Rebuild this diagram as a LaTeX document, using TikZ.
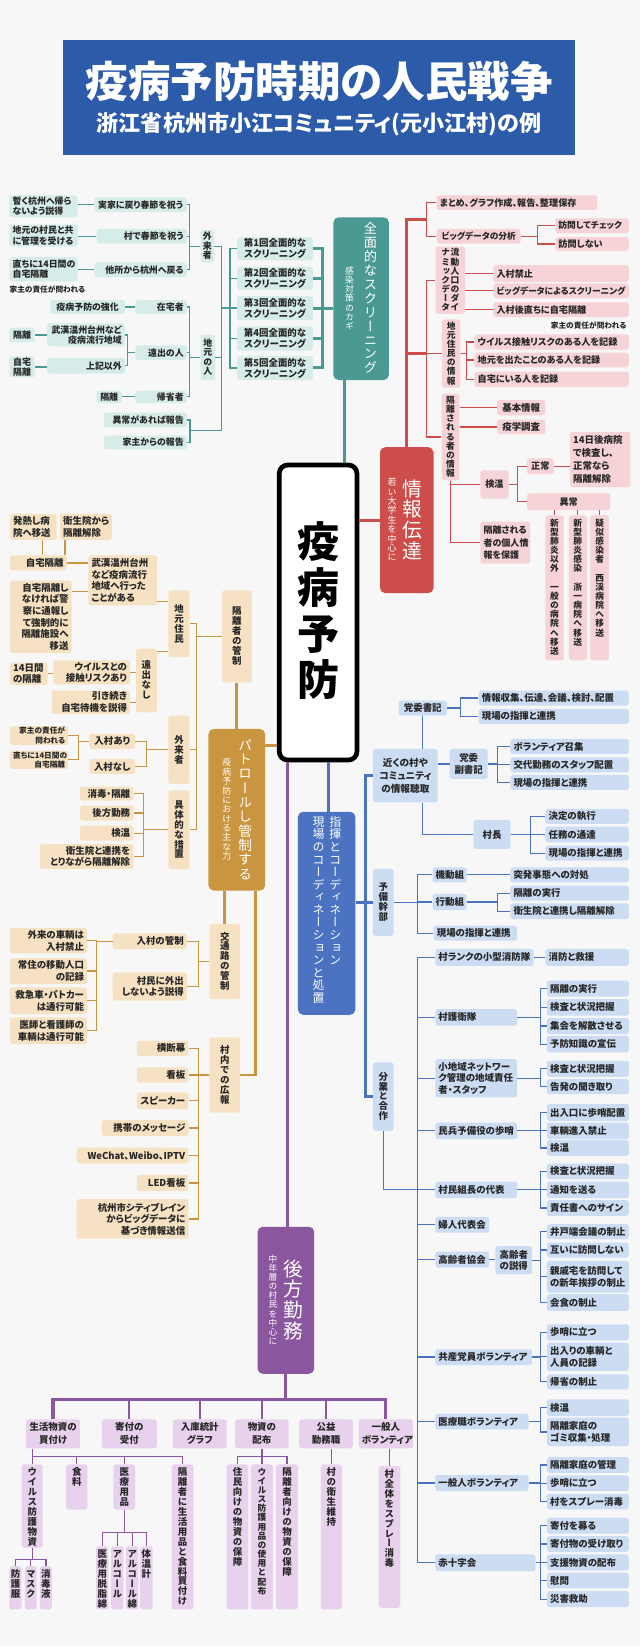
\documentclass[tikz,border=0pt]{standalone}
\usepackage{fontspec}
\setmainfont{Noto Sans CJK JP}[RawFeature=+palt]

\definecolor{bgc}{HTML}{F7F7F8}
\definecolor{ttlb}{HTML}{2C5BA9}
\definecolor{tealM}{HTML}{4A9A93}
\definecolor{tealL}{HTML}{D6ECE9}
\definecolor{redM}{HTML}{CC4D4A}
\definecolor{redL}{HTML}{F6D3D7}
\definecolor{orgM}{HTML}{C9953F}
\definecolor{orgL}{HTML}{F6E2C3}
\definecolor{bluM}{HTML}{4B73C1}
\definecolor{bluL}{HTML}{CCDCF3}
\definecolor{purM}{HTML}{8A569E}
\definecolor{purL}{HTML}{E8D1ED}
\definecolor{ink}{HTML}{262626}

% vertical (tategaki) text: one character per row
\newcommand\tatepitch{1.05}
\def\tateend{\tateend}
\newcommand\tatechar[1]{\hbox to 1em{\hss\vrule width 0pt height .88em depth \dimexpr\tatepitch em-.88em\relax#1\hss}}
\newcommand\tatei[1]{\ifx#1\tateend\else\tatechar{#1}\expandafter\tatei\fi}
\newcommand\tate[1]{\vtop{\addfontfeature{RawFeature=+vert}\offinterlineskip\tatei#1\tateend}}

% box from corner (x1,y1) to (x2,y2)
\newcommand\hnode[7]{%
  \pgfmathsetmacro\hnw{#5-#3-6}%
  \pgfmathsetmacro\hnh{#6-#4}%
  \node[#1, text width=\hnw pt, minimum height=\hnh pt] (#2) at ({(#3+#5)/2},{(#4+#6)/2}) {#7};}
\newcommand\vnode[7]{%
  \pgfmathsetmacro\hnw{#5-#3}%
  \pgfmathsetmacro\hnh{#6-#4}%
  \node[#1, minimum width=\hnw pt, minimum height=\hnh pt, inner xsep=0pt, inner ysep=2pt] (#2) at ({(#3+#5)/2},{(#4+#6)/2}) {\tate{#7}};}
\newcommand\vnodet[7]{%
  \pgfmathsetmacro\hnw{#5-#3}%
  \pgfmathsetmacro\hnh{#6-#4-6}%
  \node[#1, minimum width=\hnw pt, inner xsep=0pt, inner ysep=3pt] (#2) at ({(#3+#5)/2},{(#4+#6)/2}) {\vbox to \hnh pt{\tate{#7}\vss}};}

\tikzset{
  lbox/.style={rounded corners=2.5pt, inner xsep=3pt, inner ysep=1pt, text=ink},
  tbox/.style={lbox, fill=tealL, font=\bfseries\fontsize{8.5}{9.8}\selectfont},
  rbox/.style={lbox, fill=redL, font=\bfseries\fontsize{8.7}{10}\selectfont},
  obox/.style={lbox, fill=orgL, font=\bfseries\fontsize{9}{11}\selectfont},
  bbox/.style={lbox, fill=bluL, font=\bfseries\fontsize{9}{11}\selectfont},
  pbox/.style={lbox, fill=purL, font=\bfseries\fontsize{9}{12.5}\selectfont},
  al/.style={align=left}, ar/.style={align=right}, ac/.style={align=center},
  fsmall/.style={font=\bfseries\fontsize{7.3}{8.6}\selectfont},
  fnarrow/.style={font=\bfseries\fontsize{8.3}{9.8}\selectfont},
  fnine/.style={font=\bfseries\fontsize{9}{10.4}\selectfont},
  note/.style={inner sep=0pt, text=ink, font=\bfseries\fontsize{7.3}{8}\selectfont},
  hub/.style={rounded corners=5pt, inner sep=0pt},
  wtxt/.style={text=white, inner sep=0pt},
  corebox/.style={draw=black, line width=4.5pt, fill=white, rounded corners=8pt,
                  font=\bfseries\fontsize{40}{40}\selectfont},
  tline/.style={draw=tealM, line width=1.2pt},
  tthick/.style={draw=tealM, line width=2.8pt},
  rline/.style={draw=redM, line width=1.2pt},
  rthick/.style={draw=redM, line width=2.8pt},
  oline/.style={draw=orgM, line width=1.2pt},
  othick/.style={draw=orgM, line width=2.8pt},
  bline/.style={draw=bluM, line width=1.2pt},
  bthick/.style={draw=bluM, line width=2.8pt},
  pline/.style={draw=purM, line width=1.2pt},
  pmid/.style={draw=purM, line width=2pt},
  pthick/.style={draw=purM, line width=3pt},
}

\begin{document}
\begin{tikzpicture}[x=1pt, y=-1pt]
  \useasboundingbox (0,0) rectangle (610,1568);
  \fill[bgc] (0,0) rectangle (610,1568);

  % Title
  \node[fill=ttlb, minimum width=488pt, minimum height=110pt, inner sep=0pt] (title) at (304,93) {};
  \node[wtxt, font=\bfseries\fontsize{40.5}{40.5}\selectfont] (ttl) at (304,78) {疫病予防時期の人民戦争};
  \node[wtxt, font=\bfseries\fontsize{21}{21}\selectfont] (subttl) at (304,118.5) {浙江省杭州市小江コミュニティ(元小江村)の例};

  % Centre
  \node[corebox, minimum width=74pt, minimum height=281pt] (core) at (303,583.5) {\renewcommand\tatepitch{1.1}\tate{疫病予防}};

  % Screening (teal)
  \node[hub, fill=tealM, minimum width=53pt, minimum height=155pt] (screen) at (344,284.5) {};
  \node[wtxt, font=\fontsize{12.6}{12.6}\selectfont] (screenA) at (353,284.5) {\tate{全面的なスクリーニング}};
  \node[wtxt, font=\fontsize{8.4}{8.4}\selectfont] (screenB) at (333,284.5) {\tate{感染対策のカギ}};

  \hnode{tbox,al}{t1}{9}{186}{74}{207}{暫く杭州へ帰ら\\ないよう説得}
  \hnode{tbox,ac}{t2}{90}{188}{178}{202}{実家に戻り春節を祝う}
  \hnode{tbox,al}{t3}{9}{214}{74}{235}{地元の村民と共\\に管理を受ける}
  \hnode{tbox,ar}{t4}{92}{218}{178}{232}{村で春節を祝う}
  \hnode{tbox,al}{t5}{9}{245}{74}{268}{直ちに14日間の\\自宅隔離}
  \hnode{tbox,ar}{t6}{90}{250}{178}{264}{他所から杭州へ戻る}
  \node[note, anchor=west] (t7) at (9,276) {家主の責任が問われる};
  \vnode{tbox}{gaira}{191}{219}{204}{250}{外来者}
  \hnode{tbox,ac}{t8}{48}{286}{119}{299}{疫病予防の強化}
  \hnode{tbox,ar}{zaitaku}{129}{286}{178}{299}{在宅者}
  \hnode{tbox,ac}{t9}{9}{312}{33}{326}{隔離}
  \hnode{tbox,ar}{t10}{45}{308}{119}{330}{武漢温州台州など\\疫病流行地域}
  \hnode{tbox,ac}{t11}{9}{340}{33}{359}{自宅\\隔離}
  \hnode{tbox,ar}{t12}{45}{341}{119}{356}{上記以外}
  \hnode{tbox,ar}{toode}{129}{329}{178}{343}{遠出の人}
  \hnode{tbox,ac}{t13}{92}{372}{116}{384}{隔離}
  \hnode{tbox,ar}{kisei}{129}{372}{178}{384}{帰省者}
  \vnode{tbox}{jimoto}{191}{319}{205}{362}{地元の人}
  \hnode{tbox,ar}{ijou}{99}{393}{178}{407}{異常があれば報告}
  \hnode{tbox,ar}{yanushi}{99}{415}{178}{428}{家主からの報告}
  \hnode{tbox,ac,fnine}{s1}{226}{226}{298}{248}{第1回全面的な\\スクリーニング}
  \hnode{tbox,ac,fnine}{s2}{226}{254}{298}{276}{第2回全面的な\\スクリーニング}
  \hnode{tbox,ac,fnine}{s3}{226}{282}{298}{305}{第3回全面的な\\スクリーニング}
  \hnode{tbox,ac,fnine}{s4}{226}{311}{298}{334}{第4回全面的な\\スクリーニング}
  \hnode{tbox,ac,fnine}{s5}{226}{339}{298}{362}{第5回全面的な\\スクリーニング}

  \draw[tline] (t2.west) -- (t2.west -| t1.east);
  \draw[tline] (t4.west) -- (t4.west -| t3.east);
  \draw[tline] (t6.west) -- (t6.west -| t5.east);
  \foreach \n in {t2,t4,t6} \draw[tline] (gaira.west) -- ++(-10,0) |- (\n.east);
  \draw[tline] (zaitaku.west) -- (zaitaku.west -| t8.east);
  \draw[tline] (t9.east) -- (t9.east -| t10.west);
  \draw[tline] (t11.east) -- (t11.east -| t12.west);
  \foreach \n in {t10,t12} \draw[tline] (toode.west) -- ++(-7,0) |- (\n.east);
  \draw[tline] (t13.east) -- (kisei.west);
  \foreach \n in {zaitaku,toode,kisei} \draw[tline] (jimoto.west) -- ++(-10,0) |- (\n.east);
  \coordinate (sj) at (219,293.5);
  \coordinate (rj) at (181,410);
  \foreach \n in {s1,s2,s3,s4,s5} \draw[tline] (\n.west) -| (sj);
  \foreach \n in {gaira,jimoto} \draw[tline] (sj) -- ++(-8,0) |- (\n.east);
  \draw[tline] (sj) -- ++(-8,0) |- (rj);
  \foreach \n in {ijou,yanushi} \draw[tline] (rj) |- (\n.east);
  \coordinate (sr) at (307,293.5);
  \foreach \n in {s1,s2,s3,s4,s5} \draw[tthick] (\n.east) -| (sr);
  \draw[tthick] (sr) -- (sr -| screen.west);
  \draw[tthick] ([xshift=-16pt]screen.south) -- ([xshift=-16pt]screen.south |- core.north);

  % Information (red)
  \node[hub, fill=redM, minimum width=51pt, minimum height=139pt] (info) at (387.5,495.5) {};
  \node[wtxt, font=\fontsize{18.8}{18.8}\selectfont] (infoA) at (392.4,495.5) {\tate{情報伝達}};
  \node[wtxt, font=\fontsize{8.5}{8.5}\selectfont] (infoB) at (373.4,495.5) {\tate{若い大学生を中心に}};

  \hnode{rbox,al}{r1}{416}{186}{569}{200}{まとめ、グラフ作成、報告、整理保存}
  \hnode{rbox,ac,fnarrow}{r2}{416}{218}{496}{232}{ビッグデータの分析}
  \hnode{rbox,al,fnarrow}{r3}{529}{208}{599}{222}{訪問してチェック}
  \hnode{rbox,al}{r4}{529}{226}{599}{239}{訪問しない}
  \node[rbox, fnarrow, minimum width=28pt, minimum height=64pt, inner xsep=0pt] (ryudo) at (429,267) {\tate{ナミックデータ}\hskip.5pt\tate{流動人口のダイ}};
  \hnode{rbox,al}{r5}{470}{252.6}{599}{268.6}{入村禁止}
  \hnode{rbox,al,fnarrow}{r6}{470}{270}{599}{284}{ビッグデータによるスクリーニング}
  \hnode{rbox,al}{r7}{470}{288}{599}{302}{入村後直ちに自宅隔離}
  \node[note, anchor=east] (r7n) at (597,310.5) {家主の責任が問われる};
  \vnode{rbox,fnarrow}{jjoho}{421}{305}{438.5}{368.6}{地元住民の情報}
  \hnode{rbox,al}{r8}{452}{318.5}{599}{333}{ウイルス接触リスクのある人を記録}
  \hnode{rbox,al}{r9}{452}{336}{599}{350}{地元を出たことのある人を記録}
  \hnode{rbox,al}{r10}{452}{354}{599}{368.6}{自宅にいる人を記録}
  \vnode{rbox,fnarrow}{kakuri}{420.6}{375}{437.6}{457.6}{隔離される者の情報}
  \hnode{rbox,ac,fnine}{r11}{473.5}{381}{519.5}{395.6}{基本情報}
  \hnode{rbox,ac,fnine}{r12}{473.5}{399.7}{519.5}{413.7}{疫学調査}
  \hnode{rbox,ac}{kenon}{457.6}{448}{484.5}{475}{検温}
  \hnode{rbox,ac}{seijo}{502}{436.6}{527.5}{452}{正常}
  \hnode{rbox,al,font=\bfseries\fontsize{9}{12.4}\selectfont}{r13}{543}{411.5}{600.6}{464}{14日後病院\\で検査し、\\正常なら\\隔離解除}
  \hnode{rbox,ac}{ijo}{502}{470}{581.5}{486}{異常}
  \vnodet{rbox,fnarrow}{v1}{519.5}{491}{537}{629}{新型肺炎以外　一般の病院へ移送}
  \vnodet{rbox,fnarrow}{v2}{541.8}{491}{559}{629}{新型肺炎感染　浙一病院へ移送}
  \vnodet{rbox,fnarrow}{v3}{562.4}{491}{580}{629}{疑似感染者　西渓病院へ移送}
  \hnode{rbox,al,font=\bfseries\fontsize{8.6}{12}\selectfont}{r14}{457.6}{497}{505}{537}{隔離される\\者の個人情\\報を保護}

  \coordinate (rj1) at (406,209);
  \coordinate (rj2) at (406,337);
  \draw[rthick] (info.north) |- (rj1);
  \draw[rthick] (info.north) |- (rj2);
  \foreach \n in {r1,r2} \draw[rline] (rj1) |- (\n.west);
  \foreach \n in {ryudo,jjoho,kakuri} \draw[rline] (rj2) |- (\n.west);
  \foreach \n in {r3,r4} \draw[rline] (r2.east) -- ++(16,0) |- (\n.west);
  \foreach \n in {r5,r6,r7} \draw[rline] (\n.west) -- (\n.west -| ryudo.east);
  \foreach \n in {r8,r9,r10} \draw[rline] (jjoho.east) -- ++(5.5,0) |- (\n.west);
  \foreach \n in {r11,r12} \draw[rline] (\n.west) -- (\n.west -| kakuri.east);
  \foreach \n in {kenon,r14} \draw[rline] (kakuri.south) |- (\n.west);
  \foreach \n in {seijo,ijo} \draw[rline] (kenon.east) -- ++(8,0) |- (\n.west);
  \draw[rline] (seijo.east) -- (seijo.east -| r13.west);
  \foreach \n in {v1,v2,v3} \draw[rline] (\n.north) -- (\n.north |- ijo.south);
  \draw[rthick] (info.west) -- (info.west -| core.east);

  % Patrol (orange)
  \node[hub, fill=orgM, minimum width=54pt, minimum height=154pt] (patrol) at (225.6,771.35) {};
  \node[wtxt, font=\fontsize{13}{13}\selectfont] (patrolA) at (233.6,771.3) {\tate{パトロールし管制する}};
  \node[wtxt, font=\fontsize{8.5}{8.5}\selectfont] (patrolB) at (216,771.3) {\tate{疫病予防における主な力}};

  \hnode{obox,al}{o1}{9.5}{489.4}{54}{514.2}{発熱し病\\院へ移送}
  \hnode{obox,al}{o2}{57.2}{489.4}{106.5}{514.2}{衛生院から\\隔離解除}
  \hnode{obox,ar}{o3}{9.5}{529}{63.6}{543.4}{自宅隔離}
  \hnode{obox,al}{o4}{84.2}{529}{149.4}{576.8}{武漢温州台州\\など疫病流行\\地域へ行った\\ことがある}
  \hnode{obox,ar}{o5}{9.5}{553}{68.3}{622}{自宅隔離し\\なければ警\\察に通報し\\て強制的に\\隔離施設へ\\移送}
  \vnode{obox}{chimin}{160.5}{562.5}{180.5}{626}{地元住民}
  \vnode{obox}{toode2}{129.6}{618}{149.4}{678.5}{遠出なし}
  \hnode{obox,al}{o6}{9.5}{631.7}{45.4}{652}{14日間\\の隔離}
  \hnode{obox,ar}{o7}{50.8}{629}{124}{652}{ウイルスとの\\接触リスクあり}
  \hnode{obox,ar}{o8}{49.3}{657.8}{124}{680}{引き続き\\自宅待機を説得}
  \vnode{obox}{kanri}{211.3}{562.5}{240}{650}{隔離者の管制}
  \vnode{obox}{gaira2}{160.5}{681.6}{180.5}{746.8}{外来者}
  \hnode{obox,ac}{o9}{85.2}{699}{128.7}{713.4}{入村あり}
  \hnode{obox,ac}{o10}{85.2}{723}{128.7}{737.3}{入村なし}
  \hnode{obox,ar,fsmall}{o11}{9.5}{692.7}{65}{708.6}{家主の責任が\\問われる}
  \hnode{obox,ar,fsmall}{o12}{9.5}{715}{65}{732.5}{直ちに14日間の\\自宅隔離}
  \hnode{obox,ar}{o13}{76.3}{749.3}{127}{762.6}{消毒・隔離}
  \hnode{obox,ar}{o14}{76.3}{767.4}{127}{781.7}{後方勤務}
  \hnode{obox,ar}{o15}{76.3}{786.5}{127}{800.8}{検温}
  \hnode{obox,ar}{o16}{38}{804}{127}{827.8}{衛生院と連携を\\とりながら隔離解除}
  \vnode{obox}{gutai}{160.5}{753}{180.5}{828}{具体的な措置}
  \vnode{obox}{kotsu}{199.6}{880.2}{228.8}{951.7}{交通路の管制}
  \vnode{obox}{sonnai}{199.6}{988.3}{228.8}{1059.8}{村内での広報}
  \hnode{obox,ar}{o17}{107.4}{889.1}{178}{904.1}{入村の管制}
  \hnode{obox,ar}{o18}{107.4}{926.3}{178}{953.3}{村民に外出\\しないよう説得}
  \hnode{obox,ar}{o19}{9.5}{884}{83}{908.2}{外来の車輌は\\入村禁止}
  \hnode{obox,ar}{o20}{9.5}{912.7}{83}{937.4}{常住の移動人口\\の記録}
  \hnode{obox,ar}{o21}{9.5}{940.6}{83}{966}{救急車・パトカー\\は通行可能}
  \hnode{obox,ar}{o22}{9.5}{969.2}{83}{994.6}{医師と看護師の\\車輌は通行可能}
  \hnode{obox,ar}{o23}{130.3}{991.5}{179.5}{1005.8}{横断幕}
  \hnode{obox,ar}{o24}{130.3}{1016.9}{179.5}{1031.2}{看板}
  \hnode{obox,ar}{o25}{130.3}{1040.7}{179.5}{1056.6}{スピーカー}
  \hnode{obox,ar}{o26}{96.9}{1067}{179.5}{1082}{携帯のメッセージ}
  \hnode{obox,ar}{o27}{73}{1093.2}{179.5}{1108.4}{WeChat、Weibo、IPTV}
  \hnode{obox,ar}{o28}{130.3}{1119.2}{179.5}{1134.5}{LED看板}
  \hnode{obox,ar}{o29}{73}{1142.4}{179.5}{1180}{杭州市シティブレイン\\からビッグデータに\\基づき情報送信}

  \draw[oline] ([xshift=9pt]o1.south) -- ([xshift=9pt]o1.south |- o3.north);
  \draw[oline] ([xshift=-20pt]o2.south) -- ([xshift=-20pt]o2.south |- o3.north);
  \draw[oline] (o3.east) -- (o3.east -| o4.west);
  \draw[oline] ([yshift=-11pt]o5.north east) -- ([yshift=-11pt]o5.north east -| o4.west);
  \draw[oline] ([yshift=-10.5pt]chimin.north west) -- ([yshift=-10.5pt]chimin.north west -| o4.east);
  \draw[oline] ([yshift=-3pt]toode2.north east) -- ([yshift=-3pt]toode2.north east -| chimin.west);
  \draw[oline] (o6.east) -- (o6.east -| o7.west);
  \foreach \n in {o7,o8} \draw[oline] (\n.east) -- (\n.east -| toode2.west);
  \foreach \n in {chimin,gaira2,gutai} \draw[oline] (kanri.west) -- ++(-23.8,0) |- (\n.east);
  \draw[othick] (kanri.south) -- (kanri.south |- patrol.north);
  \draw[othick] ([yshift=-16pt]patrol.north east) -- ([yshift=-16pt]patrol.north east -| core.west);
  \foreach \n in {o9,o10} \draw[oline] (gaira2.west) -- ++(-20.7,0) |- (\n.east);
  \foreach \n in {o11,o12} \draw[oline] (o9.west) -- ++(-10.5,0) |- (\n.east);
  \foreach \n in {o13,o14,o15,o16} \draw[oline] (gutai.west) -- ++(-23.9,0) |- (\n.east);
  \draw[othick] (kotsu.north) -- (kotsu.north |- patrol.south);
  \draw[othick] ([xshift=17.4pt]patrol.south) |- (sonnai.east);
  \foreach \n in {o17,o18} \draw[oline] (kotsu.west) -- ++(-10.6,0) |- (\n.east);
  \foreach \n in {o19,o20,o21,o22} \draw[oline] (o17.west) -- ++(-15.2,0) |- (\n.east);
  \foreach \n in {o23,o24,o25,o26,o27,o28,o29} \draw[oline] (sonnai.west) -- ++(-10.6,0) |- (\n.east);

  % Command (blue)
  \node[hub, fill=bluM, minimum width=54.7pt, minimum height=193.4pt] (cmd) at (311.15,870) {};
  \node[wtxt, anchor=north, font=\fontsize{11.4}{11.4}\selectfont] (cmdA) at (319.4,777) {\tate{指揮とコーディネーション}};
  \node[wtxt, anchor=north, font=\fontsize{11.4}{11.4}\selectfont] (cmdB) at (303.5,777) {\tate{現場のコーディネーションと処置}};

  \hnode{bbox,ac,font=\bfseries\fontsize{9.2}{12.5}\selectfont}{kin}{355.3}{713.4}{417}{764.3}{近くの村や\\コミュニティ\\の情報聴取}
  \vnode{bbox}{yobi}{355.3}{827.8}{375}{891.4}{予備幹部}
  \vnode{bbox}{bungyo}{355.3}{1012.1}{375}{1077.2}{分業と合作}
  \hnode{bbox,ac}{b1}{379.7}{667.3}{425.8}{681.6}{党委書記}
  \hnode{bbox,al}{b2}{456}{657.8}{599}{672.1}{情報収集、伝達、会議、検討、配置}
  \hnode{bbox,al}{b3}{456}{675.3}{599}{689.6}{現場の指揮と連携}
  \hnode{bbox,ac}{b4}{428.4}{713.4}{464.6}{742}{党委\\副書記}
  \hnode{bbox,al}{b5}{486.2}{703.9}{599}{718.2}{ボランティア召集}
  \hnode{bbox,al}{b6}{486.2}{721.4}{599}{735.7}{交代勤務のスタッフ配置}
  \hnode{bbox,al}{b7}{486.2}{738.2}{599}{752.5}{現場の指揮と連携}
  \hnode{bbox,ac}{b8}{451.2}{781.1}{486.2}{808.7}{村長}
  \hnode{bbox,al}{b9}{519.6}{770.6}{599}{784.9}{決定の執行}
  \hnode{bbox,al}{b10}{519.6}{787.5}{599}{802.4}{任務の通達}
  \hnode{bbox,al}{b11}{519.6}{805.6}{599}{819.9}{現場の指揮と連携}
  \hnode{bbox,ac}{b12}{412}{826.2}{444.5}{840.5}{機動組}
  \hnode{bbox,al}{b13}{486.2}{826.2}{599}{840.5}{突発事態への対処}
  \hnode{bbox,ac}{b14}{412}{851.6}{444.5}{866.9}{行動組}
  \hnode{bbox,al}{b15}{486.2}{843.7}{599}{858}{隔離の実行}
  \hnode{bbox,al}{b16}{486.2}{860.5}{599}{875.5}{衛生院と連携し隔離解除}
  \hnode{bbox,al}{b17}{413.1}{881.8}{492.6}{896.1}{現場の指揮と連携}

  \hnode{bbox,al}{c1}{414.7}{904}{508.4}{920}{村ランクの小型消防隊}
  \hnode{bbox,al}{c2}{519.6}{904}{599}{920}{消防と救援}
  \hnode{bbox,al}{c3}{414.7}{961.2}{492.6}{977.1}{村護衛隊}
  \hnode{bbox,al}{c4}{521}{934.2}{599}{949.5}{隔離の実行}
  \hnode{bbox,al}{c5}{521}{951.7}{599}{967.6}{検査と状況把握}
  \hnode{bbox,al}{c6}{521}{969.8}{599}{985.1}{集会を解散させる}
  \hnode{bbox,al}{c7}{521}{986.7}{599}{1002.6}{予防知識の宣伝}
  \hnode{bbox,al}{c8}{414.7}{1009}{492.6}{1045.4}{小地域ネットワー\\ク管理の地域責任\\者・スタッフ}
  \hnode{bbox,al}{c9}{521}{1010.5}{599}{1025.8}{検査と状況把握}
  \hnode{bbox,al}{c10}{521}{1028}{599}{1042.3}{告発の聞き取り}
  \hnode{bbox,al}{c11}{414.7}{1069.3}{492.6}{1085.2}{民兵予備役の歩哨}
  \hnode{bbox,al}{c12}{521}{1051.8}{599}{1067.7}{出入口に歩哨配置}
  \hnode{bbox,al}{c13}{521}{1069.3}{599}{1085.2}{車輌進入禁止}
  \hnode{bbox,al}{c14}{521}{1086.1}{599}{1101.1}{検温}
  \hnode{bbox,al}{c15}{414.7}{1125.5}{492.6}{1141.4}{村民組長の代表}
  \hnode{bbox,al}{c16}{521}{1108.4}{599}{1123.3}{検査と状況把握}
  \hnode{bbox,al}{c17}{521}{1125.5}{599}{1141.4}{通知を送る}
  \hnode{bbox,al}{c18}{521}{1143.3}{599}{1158.3}{責任書へのサイン}
  \hnode{bbox,al}{c19}{414.7}{1159.2}{466}{1174.2}{婦人代表会}
  \hnode{bbox,al}{c20}{414.7}{1192.3}{466}{1207.5}{高齢者協会}
  \hnode{bbox,ac}{c21}{471.9}{1187}{507}{1214}{高齢者\\の説得}
  \hnode{bbox,al}{c22}{521}{1166.2}{599}{1180.5}{井戸端会議の制止}
  \hnode{bbox,al}{c23}{521}{1183.7}{599}{1198}{互いに訪問しない}
  \hnode{bbox,al}{c24}{521}{1201.2}{599}{1231.3}{親戚宅を訪問して\\の新年挨拶の制止}
  \hnode{bbox,al}{c25}{521}{1232.9}{599}{1248.8}{会食の制止}
  \hnode{bbox,al}{c26}{414.7}{1285.3}{507}{1300.3}{共産党員ボランティア}
  \hnode{bbox,al}{c27}{521}{1261.5}{599}{1276.8}{歩哨に立つ}
  \hnode{bbox,al}{c28}{521}{1279}{599}{1306}{出入りの車輌と\\人員の記録}
  \hnode{bbox,al}{c29}{521}{1309.2}{599}{1323.5}{帰省の制止}
  \hnode{bbox,al}{c30}{414.7}{1346.7}{503.5}{1361.6}{医療職ボランティア}
  \hnode{bbox,al}{c31}{521}{1333}{599}{1348.9}{検温}
  \hnode{bbox,al}{c32}{521}{1350.5}{599}{1377.5}{隔離家庭の\\ゴミ収集・処理}
  \hnode{bbox,al}{c33}{414.7}{1405.1}{503.5}{1420.4}{一般人ボランティア}
  \hnode{bbox,al}{c34}{521}{1388}{599}{1403}{隔離家庭の管理}
  \hnode{bbox,al}{c35}{521}{1405.5}{599}{1420.4}{歩哨に立つ}
  \hnode{bbox,al}{c36}{521}{1423}{599}{1437.9}{村をスプレー消毒}
  \hnode{bbox,al}{c37}{414.7}{1480.8}{510}{1496.7}{赤十字会}
  \hnode{bbox,al}{c38}{521}{1445.8}{599}{1461}{寄付を募る}
  \hnode{bbox,al}{c39}{521}{1463.3}{599}{1478.2}{寄付物の受け取り}
  \hnode{bbox,al}{c40}{521}{1480.8}{599}{1496}{支援物資の配布}
  \hnode{bbox,al}{c41}{521}{1498.2}{599}{1513.2}{慰問}
  \hnode{bbox,al}{c42}{521}{1515.7}{599}{1531}{災害救助}

  \draw[bthick] ([xshift=10pt]core.south) -- ([xshift=10pt]core.south |- cmd.north);
  \draw[bthick] (cmd.east |- yobi.west) -- (yobi.west);
  \draw[bthick] (kin.west) -- ++(-7.3,0) |- (bungyo.west);
  \draw[bline] (b1.south) -- (b1.south |- kin.north);
  \foreach \n in {b2,b3} \draw[bline] (b1.east) -- ++(12.7,0) |- (\n.west);
  \draw[bline] (b4.west) -- (b4.west -| kin.east);
  \foreach \n in {b5,b6,b7} \draw[bline] (b4.east) -- ++(8.9,0) |- (\n.west);
  \draw[bline] (b1.south |- kin.south) |- (b8.west);
  \foreach \n in {b9,b10,b11} \draw[bline] (b8.east) -- ++(19.1,0) |- (\n.west);
  \foreach \n in {b12,b14,b17} \draw[bline] (yobi.east) -- ++(22.2,0) |- (\n.west);
  \draw[bline] (b12.east) -- (b13.west);
  \foreach \n in {b15,b16} \draw[bline] (b14.east) -- ++(29,0) |- (\n.west);

  \coordinate (dv) at (397.9,1132.8);
  \draw[bline] (bungyo.south) |- (dv);
  \foreach \n in {c1,c3,c8,c11,c15,c19,c20,c26,c30,c33,c37} \draw[bline] (dv) |- (\n.west);
  \draw[bline] (c1.east) -- (c2.west);
  \foreach \n in {c4,c5,c6,c7} \draw[bline] (c3.east) -- ++(22.2,0) |- (\n.west);
  \foreach \n in {c9,c10} \draw[bline] (c8.east) -- ++(22.2,0) |- (\n.west);
  \foreach \n in {c12,c13,c14} \draw[bline] (c11.east) -- ++(22.2,0) |- (\n.west);
  \foreach \n in {c16,c17,c18} \draw[bline] (c15.east) -- ++(22.2,0) |- (\n.west);
  \draw[bline] (c20.east) -- (c20.east -| c21.west);
  \foreach \n in {c22,c23,c24,c25} \draw[bline] (c21.east) -- ++(7.8,0) |- (\n.west);
  \foreach \n in {c27,c28,c29} \draw[bline] (c26.east) -- ++(7.8,0) |- (\n.west);
  \foreach \n in {c31,c32} \draw[bline] (c30.east) -- ++(11.3,0) |- (\n.west);
  \foreach \n in {c34,c35,c36} \draw[bline] (c33.east) -- ++(11.3,0) |- (\n.west);
  \foreach \n in {c38,c39,c40,c41,c42} \draw[bline] (c37.east) -- ++(4.8,0) |- (\n.west);

  % Logistics (purple)
  \node[hub, fill=purM, minimum width=54pt, minimum height=140pt] (ops) at (272.3,1238.65) {};
  \node[wtxt, font=\fontsize{18.8}{18.8}\selectfont] (opsA) at (279,1238.6) {\tate{後方勤務}};
  \node[wtxt, font=\fontsize{8.3}{8.3}\selectfont] (opsB) at (260,1238.6) {\tate{中年層の村民を中心に}};

  \hnode{pbox,ac}{p1}{24.8}{1352}{76.3}{1379.7}{生活物資の\\買付け}
  \hnode{pbox,ac}{p2}{97}{1352}{149.4}{1379.7}{寄付の\\受付}
  \hnode{pbox,ac}{p3}{164.6}{1352}{216}{1379.7}{入庫統計\\グラフ}
  \hnode{pbox,ac}{p4}{224}{1352}{274.9}{1379.7}{物資の\\配布}
  \hnode{pbox,ac}{p5}{285}{1352}{336.2}{1379.7}{公益\\勤務職}
  \hnode{pbox,ac}{p6}{341.6}{1352}{393.4}{1379.7}{一般人\\ボランティア}
  \vnodet{pbox}{pv1}{20.7}{1395}{40.7}{1474.4}{ウイルス防護物資}
  \vnodet{pbox}{pv2}{63}{1395}{83.3}{1438}{食料}
  \vnodet{pbox}{pv3}{108}{1395}{128.7}{1438}{医療用品}
  \vnodet{pbox}{pv4}{163.6}{1395}{184.3}{1533.2}{隔離者に生活用品と食料買付け}
  \vnodet{pbox}{pw1}{8.9}{1492}{20.7}{1533.2}{防護服}
  \vnodet{pbox}{pw2}{23.8}{1492}{35}{1533.2}{マスク}
  \vnodet{pbox}{pw3}{38.1}{1492}{49.3}{1533.2}{消毒液}
  \vnodet{pbox}{pm1}{91.5}{1473}{103.3}{1533.2}{医療用脱脂綿}
  \vnodet{pbox}{pm2}{105.8}{1473}{117.6}{1533.2}{アルコール}
  \vnodet{pbox}{pm3}{120.1}{1473}{131.9}{1533.2}{アルコール綿}
  \vnodet{pbox}{pm4}{133.5}{1473}{145.5}{1533.2}{体温計}
  \vnodet{pbox}{pd1}{216}{1395}{236.7}{1533.2}{住民向けの物資の保障}
  \vnodet{pbox,fnarrow}{pd2}{239}{1395}{260}{1533.2}{ウイルス防護用品の使用と配布}
  \vnodet{pbox}{pd3}{263}{1395}{283.8}{1533.2}{隔離者向けの物資の保障}
  \vnodet{pbox}{pk1}{305.7}{1395}{325.7}{1533.2}{村の衛生維持}
  \vnodet{pbox}{pg1}{360.7}{1396.6}{381.3}{1531.6}{村全体をスプレー消毒}

  \draw[pthick] ([xshift=-29pt]core.south) -- ([xshift=-29pt]core.south |- ops.north);
  \draw[pthick] (ops.south) -- ++(0,24.4) coordinate (pj);
  \draw[pthick] (p1.north) |- (pj) -| (p6.north);
  \foreach \n in {p2,p3,p4,p5} \draw[pmid] (\n.north) -- (\n.north |- pj);
  \draw[pline] (pv1.north) -- (pv1.north |- p1.south);
  \foreach \n in {pv2,pv3,pv4} \draw[pline] ([yshift=7pt]pv1.north) -| (\n.north);
  \foreach \n in {pw1,pw2,pw3} \draw[pline] (pv1.south) -- ++(0,11) -| (\n.north);
  \foreach \n in {pm1,pm2,pm3,pm4} \draw[pline] (pv3.south) -- ++(0,21.5) -| (\n.north);
  \draw[pline] (pd2.north) -- (pd2.north |- p4.south);
  \foreach \n in {pd1,pd3} \draw[pline] ([yshift=7pt]pd2.north) -| (\n.north);
  \draw[pline] (pk1.north) -- (pk1.north |- p5.south);
  \draw[pline] (pg1.north) -- (pg1.north |- p6.south);
\end{tikzpicture}
\end{document}
